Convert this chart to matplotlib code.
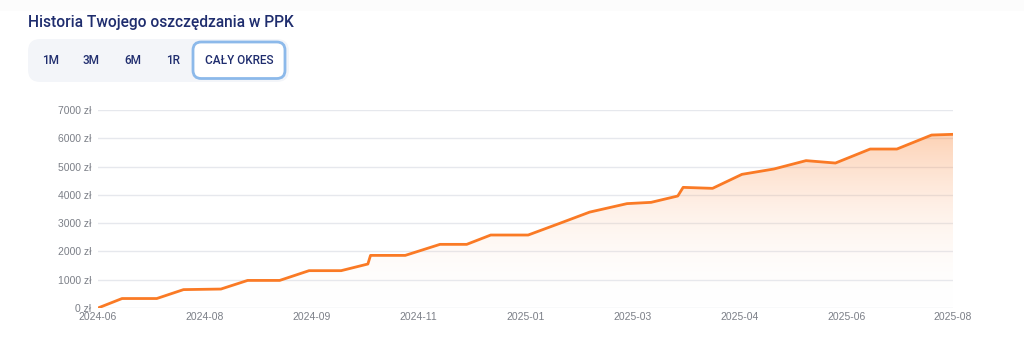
import numpy as np
import matplotlib
matplotlib.use("Agg")
import matplotlib.pyplot as plt
from matplotlib.patches import FancyBboxPatch, Rectangle, Polygon

# ---- data ----
title = "Historia Twojego oszczędzania w PPK"
range_buttons = ["1M", "3M", "6M", "1R", "CAŁY OKRES"]
tick_labels = ["2024-06", "2024-08", "2024-09", "2024-11", "2025-01",
               "2025-03", "2025-04", "2025-06", "2025-08"]
point_index = [0, 9, 22, 32, 46, 56, 68, 79, 91, 101, 102, 115, 128, 138,
               147, 161, 173, 184, 198, 207, 217, 219, 230, 241, 253, 265,
               276, 289, 299, 312, 320]
savings = [0, 335, 335, 650, 670, 975, 975, 1320, 1320, 1555, 1860, 1860,
           2250, 2250, 2580, 2580, 3000, 3390, 3690, 3735, 3960, 4265, 4230,
           4725, 4915, 5210, 5125, 5620, 5620, 6115, 6140]
y_ticks = [0, 1000, 2000, 3000, 4000, 5000, 6000, 7000]

W, H = 1024, 354
fig = plt.figure(figsize=(W / 100, H / 100), dpi=100)
fig.patch.set_facecolor("white")

navy = "#1f2d6e"
orange = "#fa7a25"

# faint top band
fig.patches.append(Rectangle((0, 1 - 11 / H), 1, 11 / H, transform=fig.transFigure,
                             facecolor="#fcfcfc", edgecolor="none", zorder=0))

fig.text(28 / W, 1 - 23 / H, title, fontsize=11.2, color=navy, family="Roboto",
         fontweight="medium", va="center", ha="left")

# button container
cont = FancyBboxPatch((28 / W, 1 - 82 / H), (289 - 28) / W, (82 - 39) / H,
                      boxstyle="round,pad=0,rounding_size=0.012",
                      transform=fig.transFigure, facecolor="#f3f5f9",
                      edgecolor="none", mutation_aspect=W / H)
fig.patches.append(cont)
sel = FancyBboxPatch((193 / W, 1 - 78.5 / H), (285 - 193) / W, (78.5 - 42) / H,
                     boxstyle="round,pad=0,rounding_size=0.008",
                     transform=fig.transFigure, facecolor="white",
                     edgecolor="#8cb9ea", linewidth=2.0, mutation_aspect=W / H)
fig.patches.append(sel)
btn_x = [51, 91, 133, 173, 239]
for lbl, bx in zip(range_buttons, btn_x):
    fig.text(bx / W, 1 - 60 / H, lbl, fontsize=8.5, color=navy, family="Roboto",
             fontweight="medium", ha="center", va="center")

# chart
ax = fig.add_axes([98 / W, 1 - 308 / H, (953 - 98) / W, (308 - 110) / H])
x = np.array(point_index, dtype=float)
y = np.array(savings, dtype=float)
ax.set_xlim(0, 320)
ax.set_ylim(0, 7000)

for t in y_ticks[1:]:
    ax.axhline(t, color="#e6e8ed", linewidth=1, zorder=1)
ax.axhline(0, color="#dfe3ea", linewidth=1, zorder=1)

# gradient fill
grad = np.linspace(0, 1, 256).reshape(-1, 1)
cmap = matplotlib.colors.LinearSegmentedColormap.from_list(
    "g", [(1, 1, 1, 0), (0.98, 0.48, 0.15, 0.34)])
ymax = y.max()
im = ax.imshow(grad, extent=[0, 320, 0, ymax], origin="lower", aspect="auto",
               cmap=cmap, zorder=2)
poly = Polygon(np.column_stack([np.r_[x, x[-1], x[0]], np.r_[y, 0, 0]]),
               closed=True, facecolor="none", edgecolor="none")
ax.add_patch(poly)
im.set_clip_path(poly)

ax.plot(x, y, color=orange, linewidth=2.0, zorder=3, solid_joinstyle="round")

for s in ax.spines.values():
    s.set_visible(False)
ax.set_yticks(y_ticks)
ax.set_yticklabels([f"{v} zł" for v in y_ticks])
ax.set_xticks(np.linspace(0, 320, len(tick_labels)))
ax.set_xticklabels(tick_labels)
ax.tick_params(axis="both", length=0, labelsize=7.5, labelcolor="#7b7f87")
for lab in ax.get_xticklabels() + ax.get_yticklabels():
    lab.set_family("Liberation Sans")
ax.tick_params(axis="y", pad=5)
ax.tick_params(axis="x", pad=3)
ax.set_facecolor("none")

fig.savefig("out.png", dpi=100, facecolor="white")
